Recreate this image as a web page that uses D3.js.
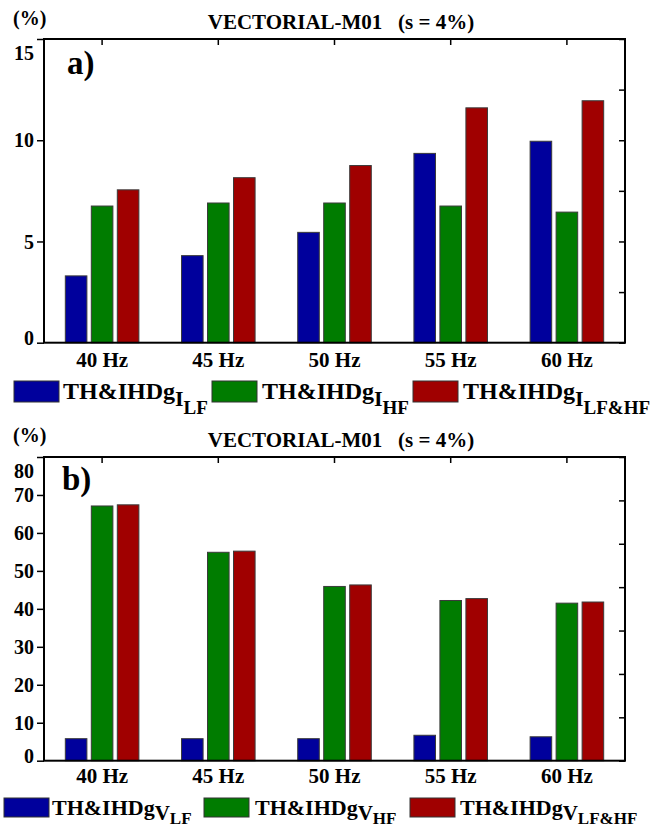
<!DOCTYPE html>
<html>
<head>
<meta charset="utf-8">
<script src="https://cdn.jsdelivr.net/npm/d3@7/dist/d3.min.js"></script>
<style>
  html, body { margin: 0; padding: 0; background: #fff; }
  svg { display: block; }
</style>
</head>
<body>
<svg id="chart" width="651" height="828"></svg>
<script>
// ---------------- DATA ----------------
const categories = ["40 Hz", "45 Hz", "50 Hz", "55 Hz", "60 Hz"];
const seriesKeys = ["LF", "HF", "LF&HF"];
const seriesColors = ["#00009c", "#007c00", "#a00000"];

// Panel a) current distortion (%)
const currentLF   = [3.3, 4.3, 5.45, 9.35, 9.95];
const currentHF   = [6.75, 6.9, 6.9, 6.75, 6.45];
const currentLFHF = [7.55, 8.15, 8.75, 11.6, 11.95];
const currentTicks = [0, 5, 10, 15];

// Panel b) voltage distortion (%)
const voltageLF   = [5.8, 5.8, 5.8, 6.7, 6.3];
const voltageHF   = [67.1, 54.9, 45.9, 42.2, 41.5];
const voltageLFHF = [67.4, 55.2, 46.3, 42.7, 41.8];
const voltageTicks = [0, 10, 20, 30, 40, 50, 60, 70, 80];

const titleText = "VECTORIAL-M01   (s = 4%)";
const unitText = "(%)";
const legendMain = "TH&IHDg";

const FONT = "Liberation Serif";

// ---------------- DRAW ----------------
const svg = d3.select("#chart");

function txt(sel) {
  return sel.attr("font-family", FONT).attr("font-weight", "bold").attr("fill", "#000")
    .style("font-family", `"${FONT}"`).style("font-weight", "bold");
}

function drawPanel(opt) {
  const g = svg.append("g");
  const x = d3.scaleBand().domain(categories).range([opt.left, opt.right]);
  const xi = d3.scaleBand().domain(seriesKeys).range([0, x.bandwidth()])
    .paddingInner(0.17).paddingOuter(0.82);
  const y = d3.scaleLinear().domain([0, opt.max]).range([opt.bottom, opt.top]);

  // unit & title
  txt(g.append("text").attr("x", 13).attr("y", opt.unitY).attr("font-size", 20).text(unitText));
  txt(g.append("text").attr("x", 341).attr("y", opt.titleY).attr("font-size", 21)
    .attr("text-anchor", "middle").attr("xml:space", "preserve").style("white-space", "pre").text(titleText));

  // bars
  const rows = categories.map((c, i) => ({ c, vals: opt.values.map(v => v[i]) }));
  const grp = g.append("g").selectAll("g").data(rows).join("g")
    .attr("transform", d => `translate(${x(d.c)},0)`);
  grp.selectAll("rect").data(d => d.vals.map((v, k) => ({ v, k }))).join("rect")
    .attr("x", d => xi(seriesKeys[d.k]))
    .attr("width", xi.bandwidth())
    .attr("y", d => y(d.v))
    .attr("height", d => y(0) - y(d.v))
    .attr("fill", d => seriesColors[d.k])
    .attr("stroke", "#3a3a3a").attr("stroke-width", 1);

  // left axis
  const ax = g.append("g").attr("transform", `translate(${opt.left},0)`)
    .call(d3.axisLeft(y).tickValues(opt.ticks).tickSize(7).tickPadding(3).tickFormat(d3.format("d")));
  ax.attr("font-family", FONT).attr("font-size", 20);
  ax.select(".domain").remove();
  ax.selectAll("line").attr("stroke", "#000").attr("stroke-width", 1.5);
  txt(ax.selectAll("text")).attr("font-size", 20)
    .attr("dy", d => d === opt.max ? "1.0em" : (d === 0 ? "0.1em" : "0.33em"));

  // right axis (inner ticks, no labels)
  const rticks = d3.range(opt.rightDiv + 1).map(i => opt.max * i / opt.rightDiv);
  const ar = g.append("g").attr("transform", `translate(${opt.right},0)`)
    .call(d3.axisRight(y).tickValues(rticks).tickSize(-6).tickFormat(""));
  ar.select(".domain").remove();
  ar.selectAll("line").attr("stroke", "#000").attr("stroke-width", 1.5);

  // top axis (inner ticks at categories)
  const at = g.append("g").attr("transform", `translate(0,${opt.top})`)
    .call(d3.axisTop(x).tickSize(-6).tickFormat(""));
  at.select(".domain").remove();
  at.selectAll("line").attr("stroke", "#000").attr("stroke-width", 1.5);

  // bottom axis labels
  const ab = g.append("g").attr("transform", `translate(0,${opt.bottom})`)
    .call(d3.axisBottom(x).tickSize(0));
  ab.attr("font-family", FONT).attr("font-size", 21);
  ab.select(".domain").remove();
  txt(ab.selectAll("text")).attr("y", opt.xLabelOff).attr("dy", 0).attr("font-size", 21);

  // frame
  g.append("rect").attr("x", opt.left).attr("y", opt.top)
    .attr("width", opt.right - opt.left).attr("height", opt.bottom - opt.top)
    .attr("fill", "none").attr("stroke", "#000").attr("stroke-width", 2);

  // panel letter
  txt(g.append("text").attr("x", opt.letterX).attr("y", opt.letterY).attr("font-size", 33).text(opt.letter));

  // legend
  const lg = g.append("g");
  seriesKeys.forEach((k, i) => {
    const L = opt.legend;
    lg.append("rect").attr("x", L.sw[i]).attr("y", L.swY).attr("width", 45).attr("height", L.swH)
      .attr("fill", seriesColors[i]).attr("stroke", "#333").attr("stroke-width", 1);
    const t = txt(lg.append("text").attr("x", L.tx[i]).attr("y", L.base).attr("font-size", L.fs));
    t.append("tspan").text(legendMain);
    t.append("tspan").attr("font-size", L.fs1).attr("dy", L.dy1).text(opt.subLetter);
    t.append("tspan").attr("font-size", L.fs2).attr("dy", L.dy2).text(k);
  });
}

drawPanel({
  left: 44, right: 625, top: 39, bottom: 342.7, max: 15, ticks: currentTicks, rightDiv: 6,
  values: [currentLF, currentHF, currentLFHF],
  unitY: 25, titleY: 29, xLabelOff: 24, letter: "a)", letterX: 67, letterY: 74,
  subLetter: "I",
  legend: { sw: [14, 212, 413], tx: [63, 262, 463], swY: 381, swH: 21, base: 399, fs: 24, fs1: 22, fs2: 19, dy1: 7, dy2: 8 }
});

drawPanel({
  left: 44, right: 625, top: 457, bottom: 760.7, max: 80, ticks: voltageTicks, rightDiv: 7,
  values: [voltageLF, voltageHF, voltageLFHF],
  unitY: 442, titleY: 447, xLabelOff: 22, letter: "b)", letterX: 62, letterY: 490,
  subLetter: "V",
  legend: { sw: [4, 204, 410], tx: [52, 255, 460], swY: 798, swH: 19, base: 815, fs: 22, fs1: 21, fs2: 17, dy1: 5, dy2: 4 }
});
</script>
</body>
</html>
